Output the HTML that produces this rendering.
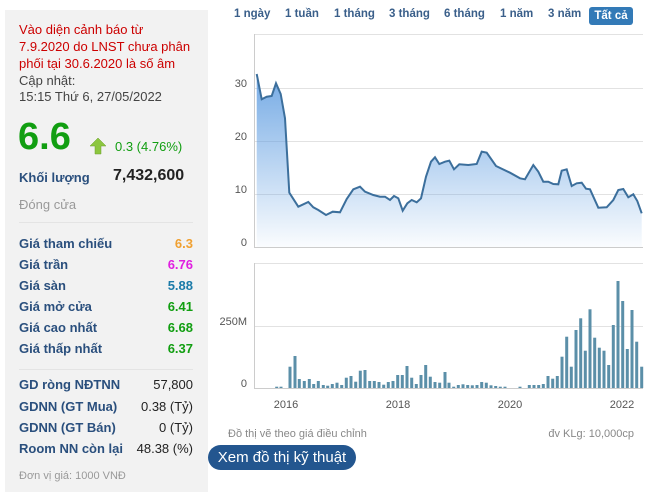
<!DOCTYPE html>
<html><head><meta charset="utf-8"><style>
body{margin:0;width:655px;height:498px;background:#fff;font-family:"Liberation Sans",Arial,sans-serif;position:relative;overflow:hidden}
.a{position:absolute;white-space:nowrap}
#lp{position:absolute;left:5px;top:10px;width:203px;height:482px;background:#f2f2f2}
.r{color:#c00;font-size:13px}
.g{color:#444;font-size:13px}
.lb{color:#2a4f7d;font-size:13px;font-weight:bold;left:19px}
.v{font-size:13px;font-weight:bold;right:462px;text-align:right}
.tab{position:absolute;top:8px;font-size:11.5px;font-weight:bold;color:#3a5f8a}
</style></head><body>
<div id="lp"></div>
<div class="a r" style="left:19px;top:22px">Vào diện cảnh báo từ</div>
<div class="a r" style="left:19px;top:39px">7.9.2020 do LNST chưa phân</div>
<div class="a r" style="left:19px;top:56px">phối tại 30.6.2020 là số âm</div>
<div class="a g" style="left:19px;top:73px">Cập nhật:</div>
<div class="a g" style="left:19px;top:89px">15:15 Thứ 6, 27/05/2022</div>
<div class="a" style="left:18px;top:116px;font-size:38px;font-weight:bold;color:#119e11">6.6</div>
<svg class="a" style="left:90px;top:138px" width="16" height="17"><polygon points="8,0 16,8 11,8 11,16 5,16 5,8 0,8" fill="#8cc63f" stroke="#6a9e2a" stroke-width="0.5"/></svg>
<div class="a" style="left:115px;top:139px;font-size:13px;color:#119e11">0.3 (4.76%)</div>
<div class="a lb" style="top:170px">Khối lượng</div>
<div class="a" style="left:113px;top:167px;font-size:16px;font-weight:bold;color:#222">7,432,600</div>
<div class="a" style="left:19px;top:197px;font-size:13px;color:#999">Đóng cửa</div>
<div class="a" style="left:19px;top:222px;width:174px;border-top:1px solid #e4e4e4"></div>
<div class="a lb" style="top:236px">Giá tham chiếu</div><div class="a v" style="top:236px;color:#f0a030">6.3</div>
<div class="a lb" style="top:257px">Giá trần</div><div class="a v" style="top:257px;color:#e020e0">6.76</div>
<div class="a lb" style="top:278px">Giá sàn</div><div class="a v" style="top:278px;color:#1a7aa8">5.88</div>
<div class="a lb" style="top:299px">Giá mở cửa</div><div class="a v" style="top:299px;color:#119e11">6.41</div>
<div class="a lb" style="top:320px">Giá cao nhất</div><div class="a v" style="top:320px;color:#119e11">6.68</div>
<div class="a lb" style="top:341px">Giá thấp nhất</div><div class="a v" style="top:341px;color:#119e11">6.37</div>
<div class="a" style="left:19px;top:369px;width:174px;border-top:1px solid #e4e4e4"></div>
<div class="a lb" style="top:377px">GD ròng NĐTNN</div><div class="a v" style="top:377px;font-weight:normal;color:#222">57,800</div>
<div class="a lb" style="top:399px">GDNN (GT Mua)</div><div class="a v" style="top:399px;font-weight:normal;color:#222">0.38 (Tỷ)</div>
<div class="a lb" style="top:420px">GDNN (GT Bán)</div><div class="a v" style="top:420px;font-weight:normal;color:#222">0 (Tỷ)</div>
<div class="a lb" style="top:441px">Room NN còn lại</div><div class="a v" style="top:441px;font-weight:normal;color:#222">48.38 (%)</div>
<div class="a" style="left:19px;top:470px;font-size:11px;color:#999">Đơn vị giá: 1000 VNĐ</div>

<div class="tab" style="left:234px">1 ngày</div>
<div class="tab" style="left:285px">1 tuần</div>
<div class="tab" style="left:334px">1 tháng</div>
<div class="tab" style="left:389px">3 tháng</div>
<div class="tab" style="left:444px">6 tháng</div>
<div class="tab" style="left:500px">1 năm</div>
<div class="tab" style="left:548px">3 năm</div>
<div class="a" style="left:589px;top:7px;width:44px;height:18px;background:#337ab7;border-radius:3px;color:#fff;font-size:11.5px;font-weight:bold;text-align:center;line-height:18px">Tất cả</div>

<svg class="a" style="left:0;top:0" width="655" height="498" id="ch">
<defs><linearGradient id="gr" x1="0" y1="0" x2="0" y2="1"><stop offset="0" stop-color="#5c9be0" stop-opacity="0.85"/><stop offset="1" stop-color="#5c9be0" stop-opacity="0.03"/></linearGradient></defs>
<g stroke="#e2e2e2" stroke-width="1">
<line x1="254" y1="34.5" x2="643" y2="34.5"/><line x1="254" y1="88.5" x2="643" y2="88.5"/><line x1="254" y1="141.5" x2="643" y2="141.5"/><line x1="254" y1="194.5" x2="643" y2="194.5"/>
<line x1="254" y1="263.5" x2="643" y2="263.5"/><line x1="254" y1="326.5" x2="643" y2="326.5"/>
</g>
<g stroke="#ccc"><line x1="254.5" y1="34" x2="254.5" y2="248"/><line x1="254" y1="247.5" x2="643" y2="247.5"/><line x1="254.5" y1="263" x2="254.5" y2="388"/><line x1="254" y1="388.5" x2="643" y2="388.5"/></g>
<g font-size="11" fill="#555" text-anchor="end" font-family="Liberation Sans,sans-serif">
<text x="247" y="87">30</text><text x="247" y="140">20</text><text x="247" y="193">10</text><text x="247" y="246">0</text>
<text x="247" y="325">250M</text><text x="247" y="387">0</text></g>
<g font-size="11" fill="#555" text-anchor="middle" font-family="Liberation Sans,sans-serif">
<text x="286" y="408">2016</text><text x="398" y="408">2018</text><text x="510" y="408">2020</text><text x="622" y="408">2022</text></g>
<path id="ar" fill="url(#gr)"/><path id="ln" fill="none" stroke="#3c6f9c" stroke-width="2"/>
<g id="bars" fill="#5b8fa8"></g>
</svg>
<div class="a" style="left:228px;top:428px;font-size:11px;color:#888">Đồ thị vẽ theo giá điều chỉnh</div>
<div class="a" style="right:21px;top:428px;font-size:11px;color:#888">đv KLg: 10,000cp</div>
<div class="a" style="left:208px;top:445px;width:148px;height:25px;background:#23568f;border-radius:13px;color:#fff;font-size:15px;line-height:25px;text-align:center">Xem đồ thị kỹ thuật</div>
<script>
var p=[140,222,155,298,170,290,185,288,198,250,212,282,225,355,238,578,265,620,295,606,310,622,325,630,348,645,368,635,390,637,410,597,430,568,450,560,465,575,490,585,510,590,525,590,540,600,552,588,565,595,578,632,592,610,605,600,620,607,633,595,648,530,663,485,675,472,688,492,705,485,718,482,732,508,748,493,775,495,800,492,815,455,830,458,858,498,900,518,930,535,945,538,970,495,985,515,1000,545,1015,545,1030,552,1045,553,1055,512,1070,508,1085,558,1100,550,1115,548,1128,566,1140,568,1165,623,1190,622,1210,600,1225,570,1240,567,1255,592,1270,583,1282,603,1295,640];
var d="";for(var i=0;i<p.length;i+=2){d+=(i?"L":"M")+(210+p[i]/3).toFixed(1)+","+(p[i+1]/3).toFixed(1);}
document.getElementById("ln").setAttribute("d",d);
document.getElementById("ar").setAttribute("d",d+"L"+(210+1295/3).toFixed(1)+",247L"+(210+140/3).toFixed(1)+",247Z");
var b=[[200,410],[213,410],[240,350],[255,318],[268,387],[283,393],[298,387],[311,402],[325,393],[340,405],[353,407],[367,402],[381,398],[395,405],[409,383],[423,378],[437,395],[451,362],[465,360],[479,393],[493,393],[507,396],[521,404],[535,396],[549,393],[563,375],[577,375],[591,348],[605,383],[619,402],[633,375],[647,345],[661,380],[675,396],[689,398],[705,366],[717,398],[731,410],[745,405],[759,403],[773,405],[787,406],[801,405],[815,396],[829,398],[843,406],[857,408],[871,410],[885,410],[930,410],[958,405],[972,405],[986,405],[1000,402],[1014,378],[1028,386],[1042,378],[1056,320],[1070,260],[1084,350],[1098,240],[1112,205],[1126,302],[1140,178],[1154,263],[1168,293],[1182,302],[1196,345],[1210,225],[1224,93],[1238,153],[1252,297],[1266,180],[1280,275],[1295,350]];
var s="";b.forEach(function(q){var x=210+q[0]/3-1.5,y=250+q[1]/3;s+='<rect x="'+x.toFixed(1)+'" y="'+y.toFixed(1)+'" width="3" height="'+(388-y).toFixed(1)+'"/>';});
document.getElementById("bars").innerHTML=s;
</script>
</body></html>
